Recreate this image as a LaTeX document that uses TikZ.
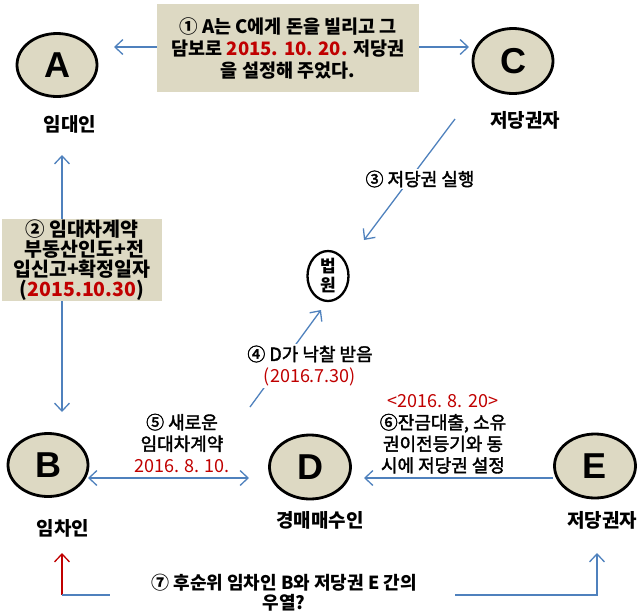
\documentclass[tikz,border=0pt]{standalone}
\usepackage{fontspec}
\setmainfont{Noto Sans CJK KR}
\newfontfamily\krmed{Noto Sans CJK KR}[FakeBold=2]
\newfontfamily\latinb{Liberation Sans}
\usetikzlibrary{shapes.geometric,arrows.meta}
\definecolor{tanc}{HTML}{DDD9C3}
\definecolor{arrblue}{HTML}{4F81BD}
\definecolor{redt}{HTML}{C00000}
\newcommand{\redreg}[1]{\textcolor{redt}{\normalfont #1}}
\tikzset{
  ent/.style={ellipse, draw=black, line width=2.8pt, fill=tanc, inner sep=0pt,
    minimum width=80pt, minimum height=63pt, font=\latinb\fontsize{36}{36}\selectfont\bfseries},
  who/.style={font=\fontsize{19}{20}\selectfont\bfseries},
  infobox/.style={fill=tanc, align=center, inner sep=0pt},
  note/.style={align=center, fill=white, inner sep=2pt},
  conn/.style={draw=arrblue, line width=1.3pt},
  arr/.style={conn, -{Straight Barb[length=8pt,width=15pt,line width=1.3pt]}},
  darr/.style={conn, {Straight Barb[length=8pt,width=15pt,line width=1.3pt]}-{Straight Barb[length=8pt,width=15pt,line width=1.3pt]}},
}
\begin{document}
\begin{tikzpicture}[x=1pt,y=-1pt]
\useasboundingbox (0,0) rectangle (641,614);
% entities
\node[ent] (A) at (57,65) {A};
\node[ent, minimum height=65pt] (C) at (513,61) {C};
\node[ent] (B) at (48,465) {B};
\node[ent, minimum width=81pt, minimum height=64pt] (D) at (310,467) {D};
\node[ent, minimum width=81pt, minimum height=64pt] (E) at (595,466) {E};
\node[ellipse, draw=black, line width=2.3pt, inner sep=0pt, minimum width=41pt, minimum height=50pt,
  align=center, font=\fontsize{17}{19}\selectfont\bfseries] (court) at (328,276) {법\\원};
% role labels
\node[who] (Al) at (70,124) {임대인};
\node[who] (Cl) at (525,120) {저당권자};
\node[who] (Bl) at (63,528) {임차인};
\node[who] (Dl) at (320,520) {경매매수인};
\node[who] (El) at (602,520) {저당권자};
% boxes
\node[infobox, minimum width=262pt, minimum height=88pt,
  font=\fontsize{18.5}{22}\selectfont\bfseries] (box1) at (288,48)
  {① A는 C에게 돈을 빌리고 그\\담보로 \textcolor{redt}{2015. 10. 20.} 저당권\\을 설정해 주었다.};
\node[infobox, minimum width=160pt, minimum height=82pt,
  font=\fontsize{19.5}{20}\selectfont\bfseries] (box2) at (82,260)
  {② 임대차계약\\\ 부동산인도+전\\입신고+확정일자\\(\textcolor{redt}{2015.10.30})};
% coordinates for free ends
\coordinate (a1) at (114,47);
\coordinate (c1) at (469,47);
\coordinate (a2) at (62,155);
\coordinate (b2) at (62,412);
\coordinate (c3) at (455,119);
\coordinate (k3) at (364,240);
\coordinate (d4) at (250,407);
\coordinate (k4) at (321,310);
\coordinate (b5) at (88,478);
\coordinate (d5) at (249,478);
\coordinate (e6) at (553,478);
\coordinate (d6) at (364,478);
\coordinate (b7) at (62,553);
\coordinate (b7c) at (62,595);
\coordinate (b7e) at (110,595);
\coordinate (e7s) at (455,595);
\coordinate (e7c) at (597,595);
\coordinate (e7) at (597,553);
% connectors
\draw[arr] (box1.west |- a1) -- (a1);
\draw[arr] (box1.east |- c1) -- (c1);
\draw[arr] (box2.north -| a2) -- (a2);
\draw[arr] (box2.south -| b2) -- (b2);
\draw[arr] (c3) -- (k3);
\draw[arr] (d4) -- (k4);
\draw[darr] (b5) -- (d5);
\draw[arr] (e6) -- (d6);
\draw[draw=redt, line width=1.3pt, -{Straight Barb[length=8pt,width=15pt,line width=1.3pt]}] (b7c) -- (b7);
\draw[conn] (b7c) -- (b7e);
\draw[arr] (e7s) -- (e7c) -- (e7);
% notes
\node[note, font=\krmed\fontsize{18}{20}\selectfont] (n3) at (420,179) {③ 저당권 실행};
\node[note, font=\krmed\fontsize{18}{22}\selectfont] (n4) at (310,366) {④ D가 낙찰 받음\\\redreg{(2016.7.30)}};
\node[align=center, inner sep=0pt, font=\krmed\fontsize{18}{21.5}\selectfont] (n5) at (182,443)
  {⑤ 새로운\\임대차계약\\\redreg{2016. 8. 10.}};
\node[align=center, inner sep=0pt, font=\krmed\fontsize{18}{21.5}\selectfont] (n6) at (443,434)
  {\redreg{<2016. 8. 20>}\\⑥잔금대출, 소유\\권이전등기와 동\\시에 저당권 설정};
\node[align=center, inner sep=0pt, font=\fontsize{18}{20}\selectfont\bfseries] (n7) at (284,593)
  {⑦ 후순위 임차인 B와 저당권 E 간의\\우열?};
\end{tikzpicture}
\end{document}
